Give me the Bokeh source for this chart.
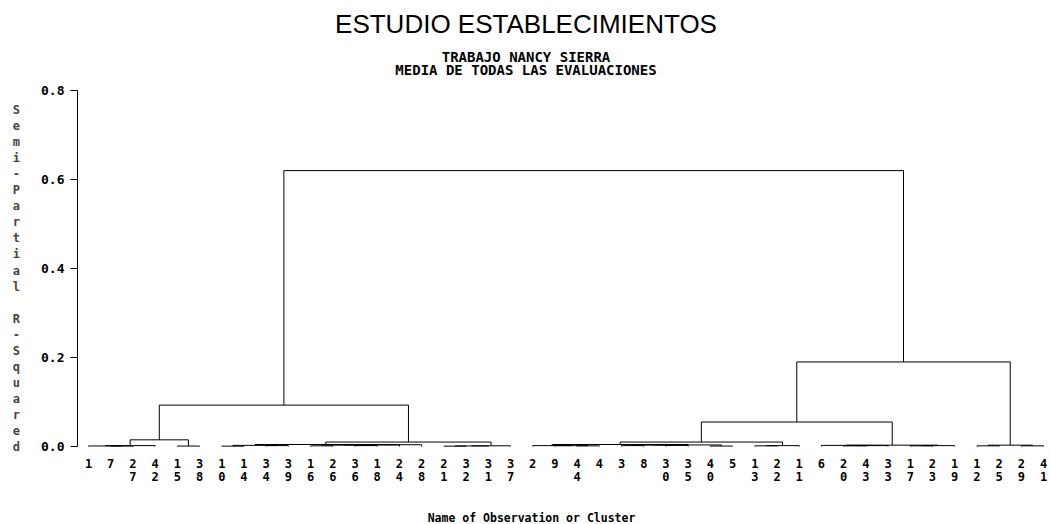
import numpy as np
from bokeh.plotting import figure
from bokeh.models import Range1d, FixedTicker, Label, NumeralTickFormatter, ColumnDataSource
from bokeh.embed import file_html
from bokeh.resources import INLINE
from bokeh.core.properties import value

# ---- data -----------------------------------------------------------------
leaf_labels = ["1", "7", "27", "42", "15", "38", "10", "14", "34", "39", "16", "26", "36", "18",
               "24", "28", "21", "32", "31", "37", "2", "9", "44", "4", "3", "8", "30", "35",
               "40", "5", "13", "22", "11", "6", "20", "43", "33", "17", "23", "19", "12", "25",
               "29", "41"]

# linkage: ids < 44 are observations, id 44+k is the k-th merge
merge_left = [1, 0, 45, 4, 46,
              6, 8, 49, 10, 12, 52, 54, 55, 51,
              16, 58, 59, 57, 48,
              22, 21, 20, 24, 26, 66, 28, 68, 65,
              30, 72, 71, 34, 75, 33, 37, 78, 77, 74,
              40, 42, 82, 81, 62]
merge_right = [2, 44, 3, 5, 47,
               7, 9, 50, 11, 13, 53, 14, 15, 56,
               17, 18, 19, 60, 61,
               23, 63, 64, 25, 27, 67, 29, 69, 70,
               31, 32, 73, 35, 36, 76, 38, 39, 79, 80,
               41, 43, 83, 84, 85]
merge_height = [0.0010, 0.0012, 0.0020, 0.0010, 0.0150,
                0.0008, 0.0020, 0.0025, 0.0015, 0.0020, 0.0030, 0.0035, 0.0040, 0.0045,
                0.0008, 0.0012, 0.0016, 0.0100, 0.0930,
                0.0015, 0.0018, 0.0020, 0.0020, 0.0025, 0.0030, 0.0010, 0.0035, 0.0045,
                0.0015, 0.0020, 0.0100, 0.0015, 0.0020, 0.0025, 0.0015, 0.0020, 0.0030, 0.0550,
                0.0015, 0.0015, 0.0030, 0.1900, 0.6200]

y_ticks = [0.0, 0.2, 0.4, 0.6, 0.8]

title_text = "ESTUDIO ESTABLECIMIENTOS"
subtitle_1 = "TRABAJO NANCY SIERRA"
subtitle_2 = "MEDIA DE TODAS LAS EVALUACIONES"
y_label = "Semi-Partial R-Squared"
x_label = "Name of Observation or Cluster"

# ---- tree geometry --------------------------------------------------------
n = len(leaf_labels)
node_x = [float(i) for i in range(n)]
node_h = [0.0] * n
xs, ys = [], []
for a, b, h in zip(merge_left, merge_right, merge_height):
    xa, xb = node_x[a], node_x[b]
    xs.append([xa, xa, xb, xb])
    ys.append([node_h[a], h, h, node_h[b]])
    node_x.append((xa + xb) / 2.0)
    node_h.append(h)

# ---- layout -----------------------------------------------------------------
W, H = 1051, 524
left_border = 77
px_x = 22.21
x0 = -(88 - left_border) / px_x
x1 = x0 + (W - left_border) / px_x
px_y = 445.0
y1 = 446 / px_y
y0 = -(H - 446) / px_y

p = figure(width=W, height=H, x_range=Range1d(x0, x1), y_range=Range1d(y0, y1),
           output_backend="svg", toolbar_location=None, x_axis_location=None,
           y_axis_location="left", min_border_left=left_border, min_border_right=0,
           min_border_top=0, min_border_bottom=0)
p.outline_line_color = None
p.grid.visible = False
p.background_fill_color = "white"
p.border_fill_color = "white"

mono = "DejaVu Sans Mono"
ax = p.yaxis[0]
ax.ticker = FixedTicker(ticks=y_ticks)
ax.formatter = NumeralTickFormatter(format="0.0")
ax.bounds = (0, 0.8)
ax.minor_tick_line_color = None
ax.major_tick_out = 7
ax.major_tick_in = 0
ax.major_tick_line_color = "black"
ax.axis_line_color = "black"
ax.major_label_standoff = 6
ax.major_label_text_font = mono
ax.major_label_text_font_style = "bold"
ax.major_label_text_font_size = "13px"
ax.major_label_text_color = "black"
ax.axis_label = "\n".join([" ", " "] + list(y_label))
ax.axis_label_orientation = "horizontal"
ax.axis_label_text_font = mono
ax.axis_label_text_font_style = "bold"
ax.axis_label_text_font_size = "12px"
ax.axis_label_text_line_height = 1.147
ax.axis_label_standoff = 18

p.multi_line(xs=xs, ys=ys, line_color="black", line_width=1)

# leaf labels (digits stacked vertically)
top_row = [s[0] for s in leaf_labels]
bot_row = [s[1] if len(s) > 1 else "" for s in leaf_labels]
src = ColumnDataSource(dict(x=list(range(n)), y=[0.0] * n, top=top_row, bot=bot_row))
for col, off in (("top", 17), ("bot", 30)):
    p.text(x="x", y="y", text=col, source=src, y_offset=off, text_align="center",
           text_baseline="middle", text_font=value(mono), text_font_style="bold",
           text_font_size="12px", text_color="black")

page_cx = x0 + (W / 2 - left_border) / px_x


def ypix(py):
    return (446 - py) / px_y


p.add_layout(Label(x=page_cx, y=ypix(23), text=title_text, text_align="center",
                   text_baseline="middle", text_font="Liberation Sans",
                   text_font_size="26px", text_color="black"))
p.add_layout(Label(x=page_cx, y=ypix(56), text=subtitle_1, text_align="center",
                   text_baseline="middle", text_font=mono, text_font_style="bold",
                   text_font_size="14px", text_color="black"))
p.add_layout(Label(x=page_cx, y=ypix(69), text=subtitle_2, text_align="center",
                   text_baseline="middle", text_font=mono, text_font_style="bold",
                   text_font_size="14px", text_color="black"))
p.add_layout(Label(x=x0 + (531 - left_border) / px_x, y=ypix(517), text=x_label,
                   text_align="center", text_baseline="middle", text_font=mono,
                   text_font_style="bold", text_font_size="11.5px", text_color="black"))

open("out.html", "w").write(file_html(p, INLINE))
